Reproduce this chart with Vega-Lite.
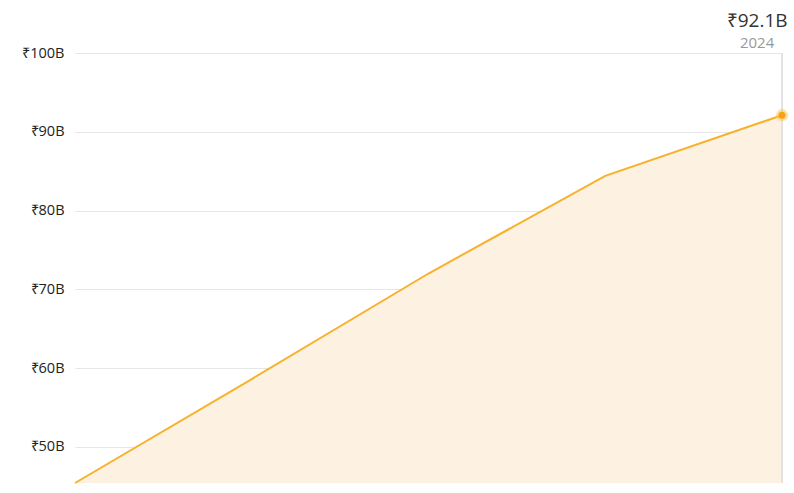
{
  "$schema": "https://vega.github.io/schema/vega-lite/v6.json",
  "width": 707,
  "height": 430,
  "autosize": {"type": "none"},
  "padding": {"left": 75, "top": 53, "right": 12, "bottom": 10},
  "background": "white",
  "title": {
    "text": "₹92.1B",
    "subtitle": "2024",
    "anchor": "end",
    "align": "center",
    "dx": -31,
    "offset": -6,
    "font": "Open Sans",
    "fontSize": 19,
    "fontWeight": "normal",
    "color": "#333333",
    "subtitleFont": "Open Sans",
    "subtitleFontSize": 15,
    "subtitleColor": "#999999",
    "subtitlePadding": 5
  },
  "data": {
    "values": [
      {"year": 2020, "value": 45.4},
      {"year": 2021, "value": 58.6},
      {"year": 2022, "value": 72.0},
      {"year": 2023, "value": 84.4},
      {"year": 2024, "value": 92.1}
    ]
  },
  "encoding": {
    "x": {
      "field": "year",
      "type": "quantitative",
      "scale": {"domain": [2020, 2024], "nice": false},
      "axis": null
    },
    "y": {
      "field": "value",
      "type": "quantitative",
      "scale": {"domain": [45.4, 100], "nice": false, "zero": false},
      "axis": {
        "values": [50, 60, 70, 80, 90, 100],
        "labelExpr": "'₹' + datum.value + 'B'",
        "title": null,
        "domain": false,
        "ticks": false,
        "labelPadding": 11,
        "labelFont": "Open Sans",
        "labelFontSize": 14.5,
        "labelColor": "#222222",
        "gridColor": "#e6e6e6",
        "gridWidth": 1
      }
    }
  },
  "layer": [
    {
      "mark": {"type": "area", "color": "#fdf1e2", "opacity": 1, "clip": true}
    },
    {
      "mark": {"type": "line", "color": "#f8b12c", "strokeWidth": 2}
    },
    {
      "mark": {"type": "rule", "color": "#e2e2e2", "strokeWidth": 1},
      "encoding": {"x": {"datum": 2024}, "y": null}
    },
    {
      "transform": [{"filter": "datum.year == 2024"}],
      "mark": {"type": "point", "filled": true, "color": "#fbc35a", "opacity": 0.5, "size": 150}
    },
    {
      "transform": [{"filter": "datum.year == 2024"}],
      "mark": {"type": "point", "filled": true, "color": "#f5a30f", "opacity": 1, "size": 50}
    }
  ],
  "config": {
    "view": {"stroke": null}
  }
}
